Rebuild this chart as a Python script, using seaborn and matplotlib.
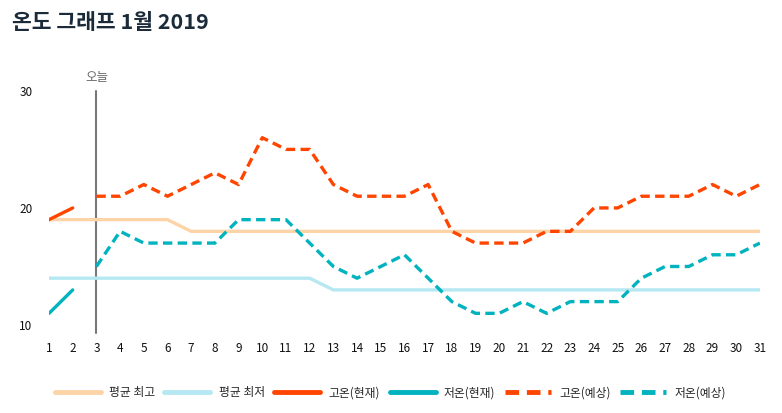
import matplotlib
matplotlib.use("Agg")
import matplotlib.pyplot as plt
import seaborn as sns
import pandas as pd

sns.set_style("white")
plt.rcParams['font.family'] = ['Noto Sans CJK KR', 'DejaVu Sans']

# data
days = list(range(1, 32))
avg_high = [19] * 6 + [18] * 25
avg_low = [14] * 12 + [13] * 19
cur_days = [1, 2, 3]
cur_high = [19, 20, None]
cur_low = [11, 13, None]
fc_days = list(range(3, 32))
fc_high = [21, 21, 22, 21, 22, 23, 22, 26, 25, 25, 22, 21, 21, 21, 22, 18,
           17, 17, 17, 18, 18, 20, 20, 21, 21, 21, 22, 21, 22]
fc_low = [15, 18, 17, 17, 17, 17, 19, 19, 19, 17, 15, 14, 15, 16, 14, 12,
          11, 11, 12, 11, 12, 12, 12, 14, 15, 15, 16, 16, 17]
today = 3

c_avg_high = "#fdd3a8"
c_avg_low = "#b5e8f2"
c_high = "#ff4500"
c_low = "#00b3be"

fig = plt.figure(figsize=(7.82, 4.13), dpi=100)
ax = fig.add_axes([0.0627, 0.213, 0.909, 0.567])

sns.lineplot(x=days, y=avg_high, ax=ax, color=c_avg_high, lw=2.4, label="평균 최고")
sns.lineplot(x=days, y=avg_low, ax=ax, color=c_avg_low, lw=2.4, label="평균 최저")
sns.lineplot(x=cur_days[:2], y=cur_high[:2], ax=ax, color=c_high, lw=2.4, label="고온(현재)")
sns.lineplot(x=cur_days[:2], y=cur_low[:2], ax=ax, color=c_low, lw=2.4, label="저온(현재)")
sns.lineplot(x=fc_days, y=fc_high, ax=ax, color=c_high, lw=2.4, label="고온(예상)",
             dashes=False, linestyle=(0, (2.8, 1.6)))
sns.lineplot(x=fc_days, y=fc_low, ax=ax, color=c_low, lw=2.4, label="저온(예상)",
             dashes=False, linestyle=(0, (2.8, 1.6)))

# today marker
ax.axvline(today, ymin=-0.035, ymax=1, color="#777777", lw=1.5, clip_on=False, zorder=1)
ax.text(today, 30.6, "오늘", ha="center", va="bottom", fontsize=9, color="#666666")

ax.set_xlim(1, 31)
ax.set_ylim(10, 30)
ax.set_xticks(days)
ax.set_yticks([10, 20, 30])
ax.tick_params(length=0, labelsize=8.5, colors="#111111")
ax.tick_params(axis="x", pad=12)
ax.tick_params(axis="y", pad=12)
sns.despine(ax=ax, left=True, bottom=True)

fig.text(0.015, 0.945, "온도 그래프 1월 2019", fontsize=15.5, fontweight="bold",
         color="#1c2b3a", ha="left", va="center")

leg = ax.legend(loc="center", bbox_to_anchor=(0.48, -0.29), ncol=6, frameon=False,
                fontsize=8.5, handlelength=3.9, handletextpad=0.7, columnspacing=0.8)
for line in leg.get_lines():
    line.set_linewidth(3.5)

fig.savefig("out.png", dpi=100)
